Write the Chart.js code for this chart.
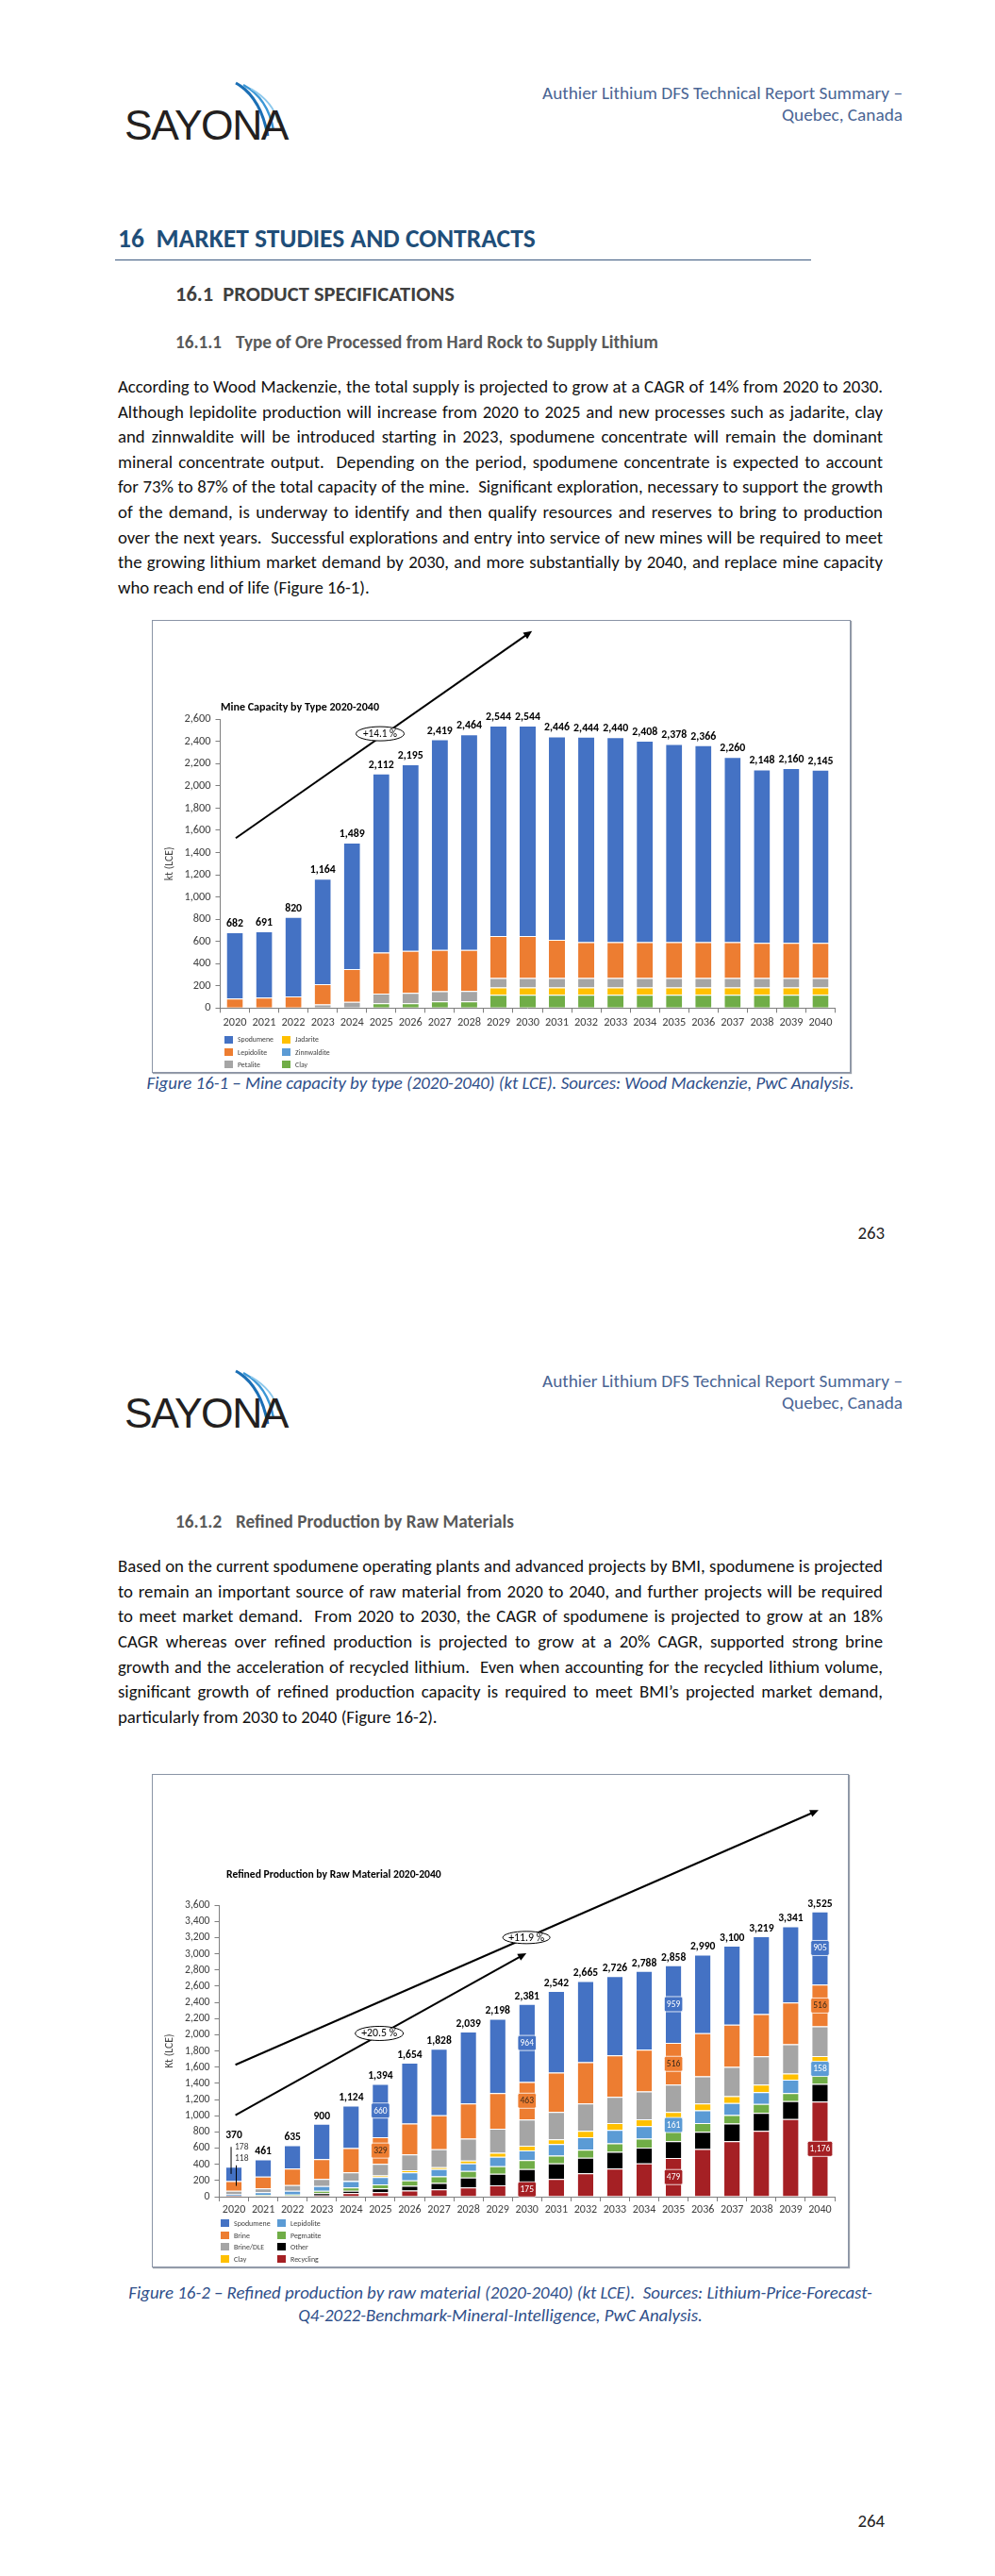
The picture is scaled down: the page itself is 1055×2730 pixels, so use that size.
<!DOCTYPE html>
<html>
<head>
<meta charset="utf-8">
<script src="https://cdn.jsdelivr.net/npm/chart.js@4.4.0/dist/chart.umd.min.js"></script>
<style>
  body { margin: 0; background: #fff; }
  #doc {
    position: relative; width: 1055px; height: 2730px; overflow: hidden;
    font-family: Carlito, "Liberation Sans Narrow", Lato, "DejaVu Sans Condensed", sans-serif;
    color: #000;
  }
  .abs { position: absolute; white-space: nowrap; }
  .hdr { right: 98px; font-size: 19px; line-height: 23.4px; color: #4a6594; text-align: right; }
  .logo { position: absolute; width: 180px; height: 75px; }
  .logo .word { position: absolute; left: 0; top: 22px; font-family: "Liberation Sans", sans-serif; font-size: 45px; letter-spacing: -1.5px; color: #231f20; line-height: 50px; white-space: nowrap; }
  .logo svg { position: absolute; left: 108px; top: 0; }
  .h1 { font-size: 26px; line-height: 32px; font-weight: bold; color: #1f4e79; }
  .rule { position: absolute; left: 122px; width: 738px; height: 0; border-top: 1.5px solid #3d5a80; }
  .h2 { font-size: 21px; line-height: 26px; font-weight: bold; color: #404040; }
  .h3 { font-size: 19px; line-height: 24px; font-weight: bold; color: #595959; }
  .jl { left: 125px; width: 811px; font-size: 19px; line-height: 24px; text-align: justify; text-align-last: justify; color: #111; }
  .jl.last { text-align-last: left; }
  .cap { left: 125px; width: 811px; text-align: center; font-size: 19px; line-height: 24px; font-style: italic; color: #2f4f8a; }
  .pnum { right: 117px; font-size: 19px; line-height: 24px; color: #222; }
  .box { position: absolute; left: 161px; border: 1px solid #8a94a6; box-shadow: 1px 1px 1px #9aa0aa; background: #fff; }
  .box canvas { position: absolute; left: 0; top: 0; }
  .lgd { position: absolute; display: grid; grid-template-columns: 61px 61px; font-size: 8px; color: #404040; }
  .lgd div { display: flex; align-items: center; white-space: nowrap; }
  .lgd span.sw { display: inline-block; flex: none; width: 9px; height: 8px; margin-right: 5px; }
</style>
</head>
<body>
<div id="doc">

  <!-- ===== page 263 ===== -->
  <div class="logo" style="left:132px; top:86px;">
    <svg width="70" height="70" viewBox="0 0 70 70">
      <path d="M10,2 Q36,16 44,58" stroke="#1b6fb5" stroke-width="3" fill="none"/>
      <path d="M18,4 Q44,18 50,52" stroke="#3b97d6" stroke-width="2.5" fill="none"/>
      <path d="M26,8 Q50,22 55,44" stroke="#8cc8ec" stroke-width="2" fill="none"/>
    </svg>
    <div class="word" data-w="173">SAYONA</div>
  </div>
  <div class="abs hdr" style="top:87px;"><span data-w="382">Authier Lithium DFS Technical Report Summary –<br>Quebec, Canada</span></div>

  <div class="abs h1" style="left:125px; top:237px;" data-w="443">16&nbsp; MARKET STUDIES AND CONTRACTS</div>
  <div class="rule" style="top:275px;"></div>
  <div class="abs h2" style="left:186px; top:299px;" data-w="296">16.1&nbsp; PRODUCT SPECIFICATIONS</div>
  <div class="abs h3 num" style="left:186px; top:351px;">16.1.1</div>
  <div class="abs h3" style="left:250px; top:351px;" data-w="448">Type of Ore Processed from Hard Rock to Supply Lithium</div>

  <div class="abs jl" style="top:398px;">According to Wood Mackenzie, the total supply is projected to grow at a CAGR of 14% from 2020 to 2030.</div>
  <div class="abs jl" style="top:424.6px;">Although lepidolite production will increase from 2020 to 2025 and new processes such as jadarite, clay</div>
  <div class="abs jl" style="top:451.2px;">and zinnwaldite will be introduced starting in 2023, spodumene concentrate will remain the dominant</div>
  <div class="abs jl" style="top:477.8px;">mineral concentrate output.&nbsp; Depending on the period, spodumene concentrate is expected to account</div>
  <div class="abs jl" style="top:504.4px;">for 73% to 87% of the total capacity of the mine.&nbsp; Significant exploration, necessary to support the growth</div>
  <div class="abs jl" style="top:531px;">of the demand, is underway to identify and then qualify resources and reserves to bring to production</div>
  <div class="abs jl" style="top:557.6px;">over the next years.&nbsp; Successful explorations and entry into service of new mines will be required to meet</div>
  <div class="abs jl" style="top:584.2px;">the growing lithium market demand by 2030, and more substantially by 2040, and replace mine capacity</div>
  <div class="abs jl last" style="top:610.8px;">who reach end of life (Figure 16-1).</div>

  <div class="box" id="box1" style="top:657px; width:739px; height:478px;">
    <canvas id="mineChart" width="739" height="478"></canvas>
    <div class="lgd" id="lgd1" style="left:76px; top:437px; grid-auto-rows:13.4px;"></div>
  </div>
  <div class="abs cap" style="top:1136px;"><span id="cap1" data-w="750">Figure 16-1 – Mine capacity by type (2020-2040) (kt LCE). Sources: Wood Mackenzie, PwC Analysis.</span></div>
  <div class="abs pnum" style="top:1295px;">263</div>

  <!-- ===== page 264 ===== -->
  <div class="logo" style="left:132px; top:1451px;">
    <svg width="70" height="70" viewBox="0 0 70 70">
      <path d="M10,2 Q36,16 44,58" stroke="#1b6fb5" stroke-width="3" fill="none"/>
      <path d="M18,4 Q44,18 50,52" stroke="#3b97d6" stroke-width="2.5" fill="none"/>
      <path d="M26,8 Q50,22 55,44" stroke="#8cc8ec" stroke-width="2" fill="none"/>
    </svg>
    <div class="word" data-w="173">SAYONA</div>
  </div>
  <div class="abs hdr" style="top:1452px;"><span data-w="382">Authier Lithium DFS Technical Report Summary –<br>Quebec, Canada</span></div>

  <div class="abs h3 num" style="left:186px; top:1601px;">16.1.2</div>
  <div class="abs h3" style="left:250px; top:1601px;" data-w="295">Refined Production by Raw Materials</div>

  <div class="abs jl" style="top:1648px;">Based on the current spodumene operating plants and advanced projects by BMI, spodumene is projected</div>
  <div class="abs jl" style="top:1674.7px;">to remain an important source of raw material from 2020 to 2040, and further projects will be required</div>
  <div class="abs jl" style="top:1701.3px;">to meet market demand.&nbsp; From 2020 to 2030, the CAGR of spodumene is projected to grow at an 18%</div>
  <div class="abs jl" style="top:1728px;">CAGR whereas over refined production is projected to grow at a 20% CAGR, supported strong brine</div>
  <div class="abs jl" style="top:1754.7px;">growth and the acceleration of recycled lithium.&nbsp; Even when accounting for the recycled lithium volume,</div>
  <div class="abs jl" style="top:1781.3px;">significant growth of refined production capacity is required to meet BMI’s projected market demand,</div>
  <div class="abs jl last" style="top:1808px;">particularly from 2030 to 2040 (Figure 16-2).</div>

  <div class="box" id="box2" style="top:1880px; width:737px; height:521px;">
    <canvas id="refinedChart" width="737" height="521"></canvas>
    <div class="lgd" id="lgd2" style="left:72px; top:469px; grid-template-columns:60px 60px; grid-auto-rows:12.5px;"></div>
  </div>
  <div class="abs cap" style="top:2418px;"><span id="cap2">Figure 16-2 – Refined production by raw material (2020-2040) (kt LCE).&nbsp; Sources: Lithium-Price-Forecast-<br>Q4-2022-Benchmark-Mineral-Intelligence, PwC Analysis.</span></div>
  <div class="abs pnum" style="top:2660px;">264</div>
</div>

<script>
// ---- shared categories ----
const years = ['2020', '2021', '2022', '2023', '2024', '2025', '2026', '2027', '2028', '2029', '2030',
               '2031', '2032', '2033', '2034', '2035', '2036', '2037', '2038', '2039', '2040'];

// ---- Figure 16-1: mine capacity by type (kt LCE) ----
const mineClay        = [0, 0, 0, 0, 5, 43, 43, 60, 60, 120, 120, 120, 120, 120, 120, 120, 120, 120, 120, 120, 120];
const mineJadarite    = [0, 0, 0, 0, 0, 0, 0, 0, 0, 66, 66, 66, 66, 66, 66, 66, 66, 66, 66, 66, 66];
const minePetalite    = [0, 0, 0, 33, 50, 86, 94, 91, 94, 85, 85, 85, 85, 85, 85, 85, 85, 85, 85, 85, 85];
const mineZinnwaldite = [0, 0, 0, 0, 0, 0, 0, 0, 0, 0, 0, 0, 0, 0, 0, 0, 0, 0, 0, 0, 0];
const mineLepidolite  = [85, 94, 105, 181, 295, 371, 377, 372, 368, 378, 378, 343, 323, 323, 323, 323, 323, 323, 315, 315, 315];
const mineSpodumene   = [597, 597, 715, 950, 1139, 1612, 1681, 1896, 1942, 1895, 1895, 1832, 1850, 1846, 1814, 1784, 1772, 1666, 1562, 1574, 1559];
const mineYTicks = [0, 200, 400, 600, 800, 1000, 1200, 1400, 1600, 1800, 2000, 2200, 2400, 2600];

// ---- Figure 16-2: refined production by raw material (kt LCE) ----
const refRecycling  = [3, 5, 8, 15, 43, 54, 75, 90, 113, 140, 175, 218, 288, 346, 412, 479, 588, 685, 813, 960, 1176];
const refOther      = [2, 5, 6, 28, 31, 47, 60, 80, 124, 144, 167, 194, 194, 207, 195, 207, 214, 218, 222, 220, 217];
const refPegmatite  = [5, 10, 12, 31, 39, 51, 65, 80, 82, 93, 109, 94, 98, 105, 109, 119, 108, 105, 109, 100, 107];
const refLepidolite = [20, 35, 48, 58, 78, 89, 100, 90, 93, 117, 121, 144, 155, 167, 156, 161, 156, 148, 148, 167, 158];
const refClay       = [0, 0, 0, 0, 5, 20, 25, 25, 35, 47, 58, 58, 78, 85, 85, 80, 86, 85, 93, 74, 78];
const refBrineDLE   = [44, 46, 70, 86, 104, 144, 196, 220, 270, 299, 324, 339, 339, 323, 343, 337, 334, 362, 350, 362, 368];
const refBrine      = [118, 148, 202, 245, 299, 329, 382, 420, 435, 440, 463, 486, 509, 514, 517, 516, 533, 522, 522, 517, 516];
const refSpodumene  = [178, 212, 289, 437, 525, 660, 751, 823, 887, 918, 964, 1009, 1004, 979, 971, 959, 971, 975, 962, 941, 905];
const refYTicks = [0, 200, 400, 600, 800, 1000, 1200, 1400, 1600, 1800, 2000, 2200, 2400, 2600, 2800, 3000, 3200, 3400, 3600];

const FONT = "Carlito, 'Liberation Sans Narrow', Lato, 'DejaVu Sans Condensed', sans-serif";
const COLORS = {
    blue: '#4472c4', orange: '#ed7d31', gray: '#a5a5a5', yellow: '#ffc000',
    lightBlue: '#5b9bd5', green: '#70ad47', black: '#000000', red: '#a52024'
};

Chart.defaults.font.family = FONT;
Chart.defaults.color = '#404040';

const fmt = (v) => Math.round(v).toLocaleString('en-US');

// --- font sizing: pick sizes that give the widths seen in the report ---
const probe = document.createElement('canvas').getContext('2d');
function sizeFor(text, width, weight = 'normal') {
    probe.font = `${weight} 20px ${FONT}`;
    return +(20 * width / probe.measureText(text).width).toFixed(2);
}
function fitEl(el, width) {
    const fs = parseFloat(getComputedStyle(el).fontSize);
    const w = el.getBoundingClientRect().width;
    el.style.fontSize = (fs * width / w).toFixed(2) + 'px';
}

document.querySelectorAll('[data-w]').forEach(el => fitEl(el, +el.dataset.w));
document.querySelectorAll('.h3.num').forEach(el => {
    el.style.fontSize = el.nextElementSibling.style.fontSize;
});
document.getElementById('cap2').style.fontSize = document.getElementById('cap1').style.fontSize;

// body text: size from the first line, then justify
const bodySize = sizeFor('According to Wood Mackenzie, the total supply is projected to grow at a CAGR of 14% from 2020 to 2030.', 803);
document.querySelectorAll('.jl, .pnum').forEach(el => { el.style.fontSize = bodySize + 'px'; });
document.querySelectorAll('.jl').forEach(el => {
    let ls = 0;
    while (el.scrollWidth > el.clientWidth + 0.5 && ls > -2) {
        ls -= 0.05;
        el.style.letterSpacing = ls + 'px';
    }
});

// --- overlay: chart title, totals, CAGR arrows, boxed labels, leaders ---
const overlayPlugin = {
    id: 'overlay',
    afterDatasetsDraw(chart, args, opts) {
        const { ctx, chartArea, scales: { x, y } } = chart;
        const sets = chart.data.datasets;
        ctx.save();

        // title
        ctx.font = `bold ${opts.titleSize}px ${FONT}`;
        ctx.fillStyle = '#000';
        ctx.textAlign = 'left';
        ctx.textBaseline = 'middle';
        ctx.fillText(opts.title, chartArea.left + opts.titleDx, chartArea.top - opts.titleDy);

        // stack totals
        ctx.font = `bold ${opts.totalSize}px ${FONT}`;
        ctx.textAlign = 'center';
        chart.data.labels.forEach((lab, i) => {
            const total = sets.reduce((s, d) => s + d.data[i], 0);
            const lift = (opts.totalLift && opts.totalLift[i]) || 0;
            ctx.fillText(fmt(total), x.getPixelForValue(i), y.getPixelForValue(total) - opts.totalGap - lift);
        });

        // arrows and CAGR bubbles
        (opts.arrows || []).forEach(a => {
            const x0 = x.getPixelForValue(a.from[0]), y0 = y.getPixelForValue(a.from[1]);
            const x1 = x.getPixelForValue(a.to[0]), y1 = y.getPixelForValue(a.to[1]);
            const c = Math.cos(Math.atan2(y1 - y0, x1 - x0)), s = Math.sin(Math.atan2(y1 - y0, x1 - x0));
            ctx.strokeStyle = '#000';
            ctx.lineWidth = 2;
            ctx.beginPath();
            ctx.moveTo(x0, y0);
            ctx.lineTo(x1 - 6 * c, y1 - 6 * s);
            ctx.stroke();
            ctx.fillStyle = '#000';
            ctx.beginPath();
            ctx.moveTo(x1, y1);
            ctx.lineTo(x1 - 9 * c + 4 * s, y1 - 9 * s - 4 * c);
            ctx.lineTo(x1 - 9 * c - 4 * s, y1 - 9 * s + 4 * c);
            ctx.closePath();
            ctx.fill();
        });
        (opts.bubbles || []).forEach(b => {
            const bx = x.getPixelForValue(b.at[0]), by = y.getPixelForValue(b.at[1]);
            ctx.fillStyle = '#fff';
            ctx.strokeStyle = '#000';
            ctx.lineWidth = 1;
            ctx.beginPath();
            ctx.ellipse(bx, by, b.rx, b.ry, 0, 0, Math.PI * 2);
            ctx.fill();
            ctx.stroke();
            ctx.fillStyle = '#000';
            ctx.font = `${opts.bubbleSize}px ${FONT}`;
            ctx.textAlign = 'center';
            ctx.fillText(b.text, bx, by + 0.5);
        });

        // boxed value labels inside segments
        (opts.boxLabels || []).forEach(bl => {
            const di = sets.findIndex(d => d.label === bl.series);
            const meta = chart.getDatasetMeta(di);
            bl.years.forEach(yr => {
                const i = chart.data.labels.indexOf(yr);
                const el = meta.data[i];
                const cy = (el.y + el.base) / 2;
                const txt = fmt(sets[di].data[i]);
                ctx.font = `${opts.innerSize}px ${FONT}`;
                const w = ctx.measureText(txt).width + 5;
                ctx.fillStyle = sets[di].backgroundColor;
                ctx.strokeStyle = 'rgba(255,255,255,0.8)';
                ctx.lineWidth = 1;
                ctx.beginPath();
                ctx.roundRect(el.x - w / 2, cy - 8, w, 16, 2);
                ctx.fill();
                ctx.stroke();
                ctx.fillStyle = bl.color;
                ctx.textAlign = 'center';
                ctx.fillText(txt, el.x, cy + 0.5);
            });
        });

        // leader labels (2020 bar)
        (opts.leaders || []).forEach(ld => {
            const di = sets.findIndex(d => d.label === ld.series);
            const i = chart.data.labels.indexOf(ld.year);
            const el = chart.getDatasetMeta(di).data[i];
            const top = chart.getDatasetMeta(sets.length - 1).data[i].y;
            const ly = top + ld.labelDy;
            ctx.font = `${opts.innerSize}px ${FONT}`;
            ctx.fillStyle = '#404040';
            ctx.textAlign = 'left';
            ctx.fillText(fmt(sets[di].data[i]), el.x + 1, ly);
            ctx.strokeStyle = '#000';
            ctx.lineWidth = 1;
            ctx.beginPath();
            ctx.moveTo(el.x + ld.lineDx, ly + ld.lineDy0);
            ctx.lineTo(el.x + ld.lineDx, (el.y + el.base) / 2);
            ctx.stroke();
        });

        ctx.restore();
    }
};

function makeDatasets(list, barPct) {
    return list.map(([label, data, color]) => ({
        label, data,
        backgroundColor: color,
        borderColor: '#ffffff',
        borderWidth: { top: 1, left: 0, right: 0, bottom: 0 },
        borderSkipped: 'start',
        categoryPercentage: 1,
        barPercentage: barPct
    }));
}

function makeOptions(c) {
    return {
        responsive: false,
        animation: false,
        events: [],
        layout: { padding: c.padding },
        plugins: { legend: { display: false }, tooltip: { enabled: false }, overlay: c.overlay },
        scales: {
            x: {
                stacked: true,
                grid: { drawOnChartArea: false, drawTicks: true, tickLength: 5, color: '#7f7f7f', offset: true },
                border: { color: '#7f7f7f' },
                ticks: { color: '#404040', font: { size: c.xSize }, padding: c.xPad, maxRotation: 0, autoSkip: false },
                afterFit: (s) => { s.height = c.xHeight; }
            },
            y: {
                stacked: true,
                min: 0,
                max: c.yTicks[c.yTicks.length - 1],
                grid: { drawOnChartArea: false, drawTicks: true, tickLength: 5, color: '#7f7f7f' },
                border: { color: '#7f7f7f' },
                afterBuildTicks: (s) => { s.ticks = c.yTicks.map(v => ({ value: v })); },
                ticks: { color: '#404040', font: { size: c.ySize }, padding: 5, autoSkip: false, callback: (v) => fmt(v) },
                title: { display: true, text: c.yTitle, color: '#404040', font: { size: c.yTitleSize }, padding: { top: 4, bottom: 0 } },
                afterFit: (s) => { s.width = c.yWidth; }
            }
        }
    };
}

function buildLegend(chart, elId, order, textWidth) {
    const box = document.getElementById(elId);
    box.style.fontSize = sizeFor('Spodumene', textWidth) + 'px';
    order.forEach(name => {
        const ds = chart.data.datasets.find(d => d.label === name);
        const item = document.createElement('div');
        item.innerHTML = `<span class="sw" style="background:${ds.backgroundColor}"></span>${name}`;
        box.appendChild(item);
    });
}

// -----------------------------
// --- Chart 1: Mine capacity by type ---
// -----------------------------
const mineChart = new Chart(document.getElementById('mineChart'), {
    type: 'bar',
    data: {
        labels: years,
        datasets: makeDatasets([
            ['Clay', mineClay, COLORS.green],
            ['Jadarite', mineJadarite, COLORS.yellow],
            ['Petalite', minePetalite, COLORS.gray],
            ['Zinnwaldite', mineZinnwaldite, COLORS.lightBlue],
            ['Lepidolite', mineLepidolite, COLORS.orange],
            ['Spodumene', mineSpodumene, COLORS.blue]
        ], 0.55)
    },
    options: makeOptions({
        padding: { left: 7, right: 15.5, top: 104.3, bottom: 41.7 },
        xHeight: 26, xPad: 3, yWidth: 64.5,
        xSize: sizeFor('2020', 25), ySize: sizeFor('2,600', 28),
        yTicks: mineYTicks, yTitle: 'kt (LCE)', yTitleSize: sizeFor('kt (LCE)', 36),
        overlay: {
            title: 'Mine Capacity by Type 2020-2040', titleSize: sizeFor('Mine Capacity by Type 2020-2040', 168, 'bold'),
            titleDx: 0.5, titleDy: 12,
            totalSize: sizeFor('2,544', 27, 'bold'), totalGap: 9,
            bubbleSize: sizeFor('+14.1 %', 36),
            arrows: [{ from: [0.03, 1530], to: [10.15, 3395] }],
            bubbles: [{ at: [4.96, 2470], text: '+14.1 %', rx: 25.5, ry: 7.5 }]
        }
    }),
    plugins: [overlayPlugin]
});
buildLegend(mineChart, 'lgd1', ['Spodumene', 'Jadarite', 'Lepidolite', 'Zinnwaldite', 'Petalite', 'Clay'], 38);

// -----------------------------
// --- Chart 2: Refined production by raw material ---
// -----------------------------
const refinedChart = new Chart(document.getElementById('refinedChart'), {
    type: 'bar',
    data: {
        labels: years,
        datasets: makeDatasets([
            ['Recycling', refRecycling, COLORS.red],
            ['Other', refOther, COLORS.black],
            ['Pegmatite', refPegmatite, COLORS.green],
            ['Lepidolite', refLepidolite, COLORS.lightBlue],
            ['Clay', refClay, COLORS.yellow],
            ['Brine/DLE', refBrineDLE, COLORS.gray],
            ['Brine', refBrine, COLORS.orange],
            ['Spodumene', refSpodumene, COLORS.blue]
        ], 0.53)
    },
    options: makeOptions({
        padding: { left: 7, right: 14, top: 138.2, bottom: 52 },
        xHeight: 22, xPad: 2, yWidth: 63.5,
        xSize: sizeFor('2020', 24.4), ySize: sizeFor('3,600', 26.5),
        yTicks: refYTicks, yTitle: 'Kt (LCE)', yTitleSize: sizeFor('Kt (LCE)', 36.5),
        overlay: {
            title: 'Refined Production by Raw Material 2020-2040',
            titleSize: sizeFor('Refined Production by Raw Material 2020-2040', 228, 'bold'),
            titleDx: 7.5, titleDy: 32,
            totalSize: sizeFor('2,542', 26.4, 'bold'), totalGap: 8, totalLift: { 0: 25 },
            innerSize: sizeFor('660', 14.5),
            bubbleSize: sizeFor('+11.9 %', 38),
            arrows: [
                { from: [0.05, 1629], to: [19.95, 4776] },
                { from: [0.05, 1006], to: [9.98, 3008] }
            ],
            bubbles: [
                { at: [9.98, 3202], text: '+11.9 %', rx: 25, ry: 6.5 },
                { at: [4.96, 2017], text: '+20.5 %', rx: 25.5, ry: 7.5 }
            ],
            boxLabels: [
                { series: 'Spodumene', years: ['2025', '2030', '2035', '2040'], color: '#ffffff' },
                { series: 'Brine', years: ['2025', '2030', '2035', '2040'], color: '#3a2a1a' },
                { series: 'Lepidolite', years: ['2035', '2040'], color: '#ffffff' },
                { series: 'Recycling', years: ['2030', '2035', '2040'], color: '#ffffff' }
            ],
            leaders: [
                { series: 'Spodumene', year: '2020', labelDy: -21, lineDx: -3, lineDy0: 0 },
                { series: 'Brine', year: '2020', labelDy: -8.5, lineDx: 2.5, lineDy0: 7 }
            ]
        }
    }),
    plugins: [overlayPlugin]
});
buildLegend(refinedChart, 'lgd2', ['Spodumene', 'Lepidolite', 'Brine', 'Pegmatite', 'Brine/DLE', 'Other', 'Clay', 'Recycling'], 38.6);
</script>
</body>
</html>
